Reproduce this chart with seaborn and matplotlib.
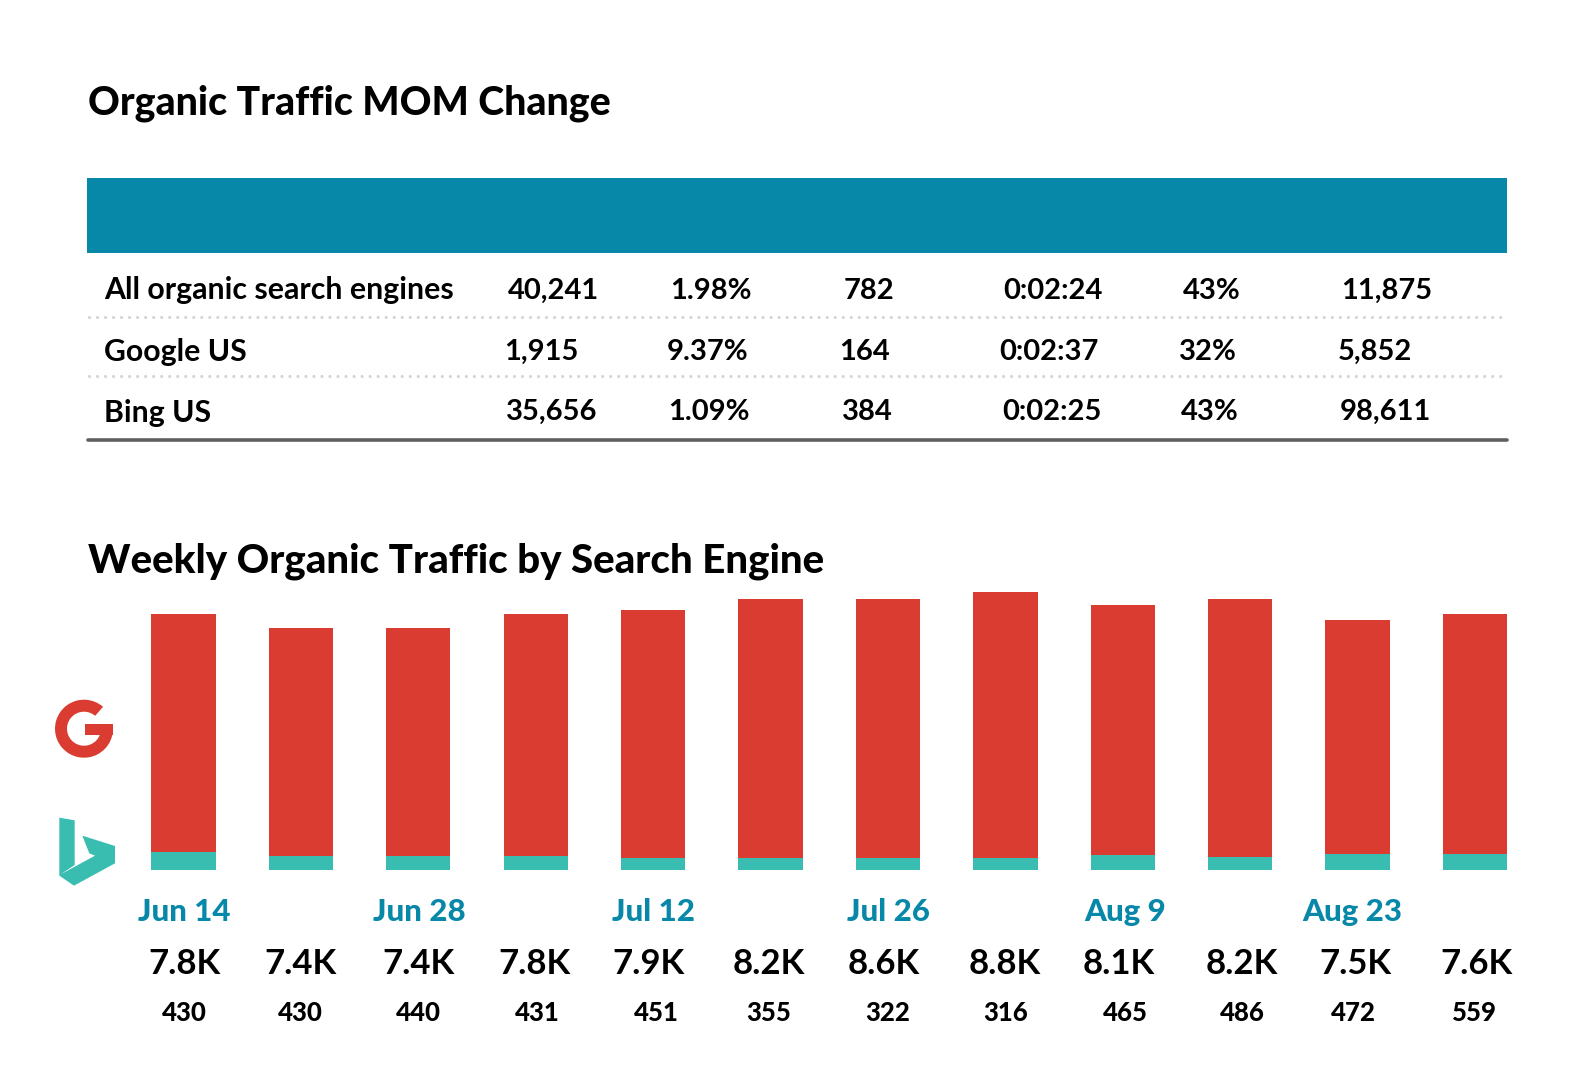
import seaborn as sns
import matplotlib.pyplot as plt
from matplotlib.patches import Polygon, Rectangle, Wedge

# table values
engines = ["All organic search engines", "Google US", "Bing US"]
table_rows = [
    ["40,241", "1.98%", "782", "0:02:24", "43%", "11,875"],
    ["1,915", "9.37%", "164", "0:02:37", "32%", "5,852"],
    ["35,656", "1.09%", "384", "0:02:25", "43%", "98,611"],
]

# weekly bars, thousands of visits
weeks = ["Jun 14", "Jun 21", "Jun 28", "Jul 5", "Jul 12", "Jul 19",
         "Jul 26", "Aug 2", "Aug 9", "Aug 16", "Aug 23", "Aug 30"]
total_height = [7.82, 7.40, 7.40, 7.82, 7.95, 8.26, 8.26, 8.50, 8.08, 8.28, 7.64, 7.82]
bing_height = [0.535, 0.42, 0.42, 0.42, 0.35, 0.35, 0.35, 0.35, 0.45, 0.38, 0.465, 0.465]

# printed labels
date_labels = ["Jun 14", "Jun 28", "Jul 12", "Jul 26", "Aug 9", "Aug 23"]
total_labels = ["7.8K", "7.4K", "7.4K", "7.8K", "7.9K", "8.2K",
                "8.6K", "8.8K", "8.1K", "8.2K", "7.5K", "7.6K"]
bing_labels = ["430", "430", "440", "431", "451", "355",
               "322", "316", "465", "486", "472", "559"]

# text layout in pixels
date_x = [184, 419, 654, 888, 1125, 1352]
total_x = [184, 300, 418, 535, 648, 769, 884, 1005, 1119, 1242, 1355, 1477]
bing_x = [184, 300, 418, 537, 656, 769, 888, 1006, 1125, 1242, 1353, 1474]
col_x = [[554, 711, 869, 1053, 1212, 1387],
         [541, 708, 865, 1049, 1208, 1375],
         [552, 709, 867, 1052, 1210, 1385]]
row_y = [299, 359.5, 420]
label_y = [299, 361.5, 422]

RED = "#DA3C32"
TEAL = "#39BDB1"
BLUE = "#0788A8"

W, H = 1574, 1081
sns.set_theme(style="white")
plt.rcParams["font.family"] = ["Lato", "DejaVu Sans"]

fig = plt.figure(figsize=(W / 100, H / 100), dpi=100, facecolor="white")

# overlay in pixel coordinates for the text and table rules
over = fig.add_axes([0, 0, 1, 1])
over.set_xlim(0, W)
over.set_ylim(H, 0)
over.axis("off")

over.text(88, 114, "Organic Traffic MOM Change", fontsize=28.3, fontweight=900, color="black")
over.text(88, 572, "Weekly Organic Traffic by Search Engine", fontsize=29, fontweight=900, color="black")

over.add_patch(Rectangle((87, 177.5), 1420, 75, color=BLUE, lw=0))
for y in [317.3, 376]:
    over.plot([89, 1507], [y, y], color="#D5D5D5", lw=2.3, linestyle=(0, (0.01, 2.5)),
              dash_capstyle="round")
over.plot([88, 1507], [440, 440], color="#5F5F5F", lw=2.6, solid_capstyle="round")

for i, name in enumerate(engines):
    over.text(104, label_y[i], name, fontsize=21.8, fontweight="bold", color="black")
    for x, val in zip(col_x[i], table_rows[i]):
        over.text(x, row_y[i], val, fontsize=21, fontweight="bold", color="black", ha="center")

for x, lab in zip(date_x, date_labels):
    over.text(x, 921, lab, fontsize=22.5, fontweight=900, color=BLUE, ha="center")
for x, lab in zip(total_x, total_labels):
    over.text(x, 973.5, lab, fontsize=25, fontweight="bold", color="black", ha="center")
for x, lab in zip(bing_x, bing_labels):
    over.text(x, 1021, lab, fontsize=18.5, fontweight=900, color="black", ha="center")

# google logo
over.add_patch(Wedge((84, 728.7), 29, 5, 311, width=12, color=RED, lw=0))
over.add_patch(Rectangle((84.5, 723.5), 28, 11.5, color=RED, lw=0))

# bing logo
bing_logo = [(58, 413), (104, 421), (104, 555), (62, 583), (165, 527), (148, 520), (127, 467),
             (225, 498), (225, 550), (102, 617), (58, 587)]
over.add_patch(Polygon([(40 + a / 3, 680 + b / 3) for a, b in bing_logo], color=TEAL, lw=0))

# stacked bars
ax = fig.add_axes([124.8 / W, 1 - 869.5 / H, (1533.7 - 124.8) / W, 327 / H])
ax.patch.set_alpha(0)
sns.barplot(x=weeks, y=total_height, color=RED, saturation=1, width=0.548, linewidth=0, ax=ax)
sns.barplot(x=weeks, y=bing_height, color=TEAL, saturation=1, width=0.548, linewidth=0, ax=ax)
ax.set_ylim(0, 10)
ax.set_xlim(-0.5, 11.5)
ax.axis("off")

fig.savefig("out.png", dpi=100)
